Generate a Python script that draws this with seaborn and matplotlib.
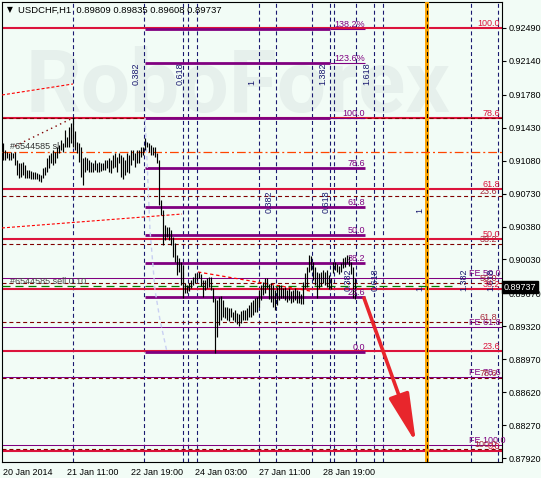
import matplotlib
matplotlib.use("Agg")
import matplotlib.pyplot as plt
import matplotlib.transforms as mtransforms
import seaborn as sns

# ---------------- data ----------------
title_text = "USDCHF,H1  0.89809 0.89835 0.89608 0.89737"
last_price = 0.89737

x_label_bars = [0, 32, 64, 96, 128, 160]
x_labels = ["20 Jan 2014", "21 Jan 11:00", "22 Jan 19:00",
            "24 Jan 03:00", "27 Jan 11:00", "28 Jan 19:00"]
price_ticks = [0.92490, 0.92140, 0.91780, 0.91430, 0.91080, 0.90730, 0.90380,
               0.90030, 0.89670, 0.89320, 0.88970, 0.88620, 0.88270, 0.87920]

# H1 bars, high / low
bar_high = [
    0.9127, 0.9119, 0.9117, 0.9116, 0.9117, 0.9116, 0.9117, 0.9109, 0.9106, 0.9106,
    0.9107, 0.9103, 0.9098, 0.9098, 0.9097, 0.9096, 0.9096, 0.9095, 0.9094, 0.9093,
    0.9100, 0.9101, 0.9111, 0.9114, 0.9116, 0.9119, 0.9117, 0.9122, 0.9125, 0.9130,
    0.9127, 0.9141, 0.9133, 0.9144, 0.9148, 0.9154, 0.9139, 0.9128, 0.9127, 0.9123,
    0.9111, 0.9112, 0.9111, 0.9109, 0.9107, 0.9106, 0.9109, 0.9106, 0.9107, 0.9106,
    0.9106, 0.9109, 0.9109, 0.9111, 0.9109, 0.9114, 0.9116, 0.9112, 0.9116, 0.9114,
    0.9112, 0.9109, 0.9116, 0.9114, 0.9119, 0.9119, 0.9116, 0.9119, 0.9119, 0.9122,
    0.9123, 0.9132, 0.9128, 0.9127, 0.9125, 0.9122, 0.9122, 0.9116, 0.9109, 0.9066,
    0.9056, 0.9040, 0.9038, 0.9038, 0.9034, 0.9027, 0.9021, 0.9008, 0.9005, 0.9000,
    0.8997, 0.8978, 0.8976, 0.8978, 0.8981, 0.8984, 0.8989, 0.8989, 0.8990, 0.8988,
    0.8981, 0.8981, 0.8983, 0.8984, 0.8984, 0.8973, 0.8962, 0.8960, 0.8963, 0.8964,
    0.8960, 0.8953, 0.8953, 0.8951, 0.8951, 0.8947, 0.8949, 0.8946, 0.8945, 0.8948,
    0.8949, 0.8949, 0.8951, 0.8955, 0.8958, 0.8960, 0.8962, 0.8963, 0.8971, 0.8976,
    0.8979, 0.8983, 0.8983, 0.8977, 0.8978, 0.8976, 0.8971, 0.8974, 0.8976, 0.8976,
    0.8973, 0.8974, 0.8971, 0.8973, 0.8970, 0.8971, 0.8973, 0.8971, 0.8969, 0.8966,
    0.8979, 0.8989, 0.8995, 0.9008, 0.9007, 0.9000, 0.8995, 0.8990, 0.8989, 0.8990,
    0.8992, 0.8990, 0.8992, 0.8987, 0.8983, 0.9000, 0.9000, 0.8998, 0.8996, 0.8999,
    0.9005, 0.9006, 0.9008, 0.9007, 0.9000, 0.8995, 0.89835,
]
bar_low = [
    0.9109, 0.9109, 0.9111, 0.9109, 0.9109, 0.9111, 0.9103, 0.9093, 0.9090, 0.9091,
    0.9093, 0.9090, 0.9090, 0.9090, 0.9089, 0.9088, 0.9088, 0.9088, 0.9086, 0.9085,
    0.9090, 0.9093, 0.9096, 0.9100, 0.9106, 0.9103, 0.9106, 0.9111, 0.9116, 0.9119,
    0.9117, 0.9122, 0.9123, 0.9123, 0.9127, 0.9123, 0.9119, 0.9116, 0.9107, 0.9091,
    0.9082, 0.9096, 0.9098, 0.9096, 0.9096, 0.9096, 0.9098, 0.9096, 0.9096, 0.9097,
    0.9098, 0.9098, 0.9100, 0.9096, 0.9095, 0.9100, 0.9101, 0.9096, 0.9106, 0.9091,
    0.9088, 0.9093, 0.9096, 0.9095, 0.9103, 0.9109, 0.9101, 0.9106, 0.9106, 0.9112,
    0.9114, 0.9119, 0.9122, 0.9117, 0.9114, 0.9114, 0.9112, 0.9106, 0.9061, 0.9050,
    0.9018, 0.9024, 0.9027, 0.9024, 0.9018, 0.9006, 0.9000, 0.8987, 0.8990, 0.8976,
    0.8962, 0.8967, 0.8967, 0.8969, 0.8973, 0.8976, 0.8978, 0.8981, 0.8983, 0.8975,
    0.8963, 0.8971, 0.8973, 0.8974, 0.8971, 0.8958, 0.8904, 0.8921, 0.8933, 0.8939,
    0.8942, 0.8941, 0.8939, 0.8938, 0.8942, 0.8939, 0.8937, 0.8934, 0.8932, 0.8936,
    0.8939, 0.8939, 0.8939, 0.8942, 0.8942, 0.8944, 0.8947, 0.8947, 0.8953, 0.8960,
    0.8965, 0.8967, 0.8973, 0.8961, 0.8958, 0.8953, 0.8949, 0.8955, 0.8960, 0.8962,
    0.8962, 0.8960, 0.8958, 0.8960, 0.8957, 0.8958, 0.8960, 0.8957, 0.8957, 0.8956,
    0.8956, 0.8973, 0.8974, 0.8990, 0.8992, 0.8981, 0.8976, 0.8962, 0.8973, 0.8975,
    0.8978, 0.8976, 0.8974, 0.8972, 0.8972, 0.8989, 0.8992, 0.8990, 0.8988, 0.8990,
    0.8994, 0.8995, 0.8999, 0.8996, 0.8988, 0.8962, 0.89608,
]

# fibonacci retracements: (price at 0, price at 100)
fib_ratios = [0.0, 23.6, 38.2, 50.0, 61.8, 78.6, 100.0]
fib_main = (0.8800, 0.9249)       # crimson, full width
fib_dash = (0.91534, 0.8802)      # maroon dashed, full width
fib_inner = (0.89047, 0.91534)    # purple, from 22 Jan
fib_inner_ratios = [0.0, 23.6, 38.2, 50.0, 61.8, 78.6, 100.0, 123.6, 138.2]
fib_inner_text = ["0.0", "23.6", "38.2", "50.0", "61.8", "78.6", "100.0", "123.6%", "138.2%"]

# fibo expansion lines
fe_prices = [0.89833, 0.89313, 0.88781, 0.88059]
fe_text = ["FE 50.0", "FE 61.8", "FE 78.6", "FE 100.0"]

# fibo time zones: (bar of 0, bar of 1, label price)
tz_ratios = [0.0, 0.382, 0.618, 1.0, 1.382, 1.618]
tz_sets = [(35, 128, 0.91884), (90, 212, 0.90524), (154.5, 212, 0.89695)]
extra_vline = 97
target_bar = 212

# orders and trend lines
sl_price = 0.91172
sell_price = 0.89745
trend_red_a = ([-0.5, 35], [0.91778, 0.91895])
trend_dot = ([6, 35], [0.91236, 0.91534])
trend_red_b = ([-0.5, 89.5], [0.90365, 0.90513])
trend_red_c = ([97.5, 153.5], [0.89897, 0.89695])
arc_x = [71, 72, 73.5, 76, 78.5, 82]
arc_y = [0.91534, 0.91087, 0.90343, 0.89706, 0.89387, 0.89047]
arrow_from = (180.5, 0.89621)
arrow_to = (206.5, 0.88080)

# ---------------- drawing ----------------
sns.set_style("white")
plt.rcParams["font.family"] = ["Liberation Sans", "DejaVu Sans"]

BG = "#F2FCF6"
CRIMSON = "#DC143C"
PURPLE = "#800080"
MAROON = "#800000"
NAVY = "#191970"
FS = 6.5

fig = plt.figure(figsize=(5.41, 4.78), dpi=100, facecolor=BG)
ax = fig.add_axes([2 / 541, 16 / 478, 500 / 541, 460 / 478], facecolor=BG)
ax.set_xlim(-0.5, 249.5)
ax.set_ylim(0.87878, 0.92766)

# watermark
ax.text(0.046, 0.761, "RoboForex", transform=ax.transAxes, fontsize=63,
        fontweight="bold", family="Roboto", color="#E6F0EC", zorder=0)

# vertical time zones
for b0, b1, ly in tz_sets:
    for r in tz_ratios:
        xb = b0 + r * (b1 - b0)
        if xb > 249.5:
            continue
        ax.axvline(xb, color=NAVY, lw=0.8, ls=(0, (3.6, 2.6)), zorder=2)
        if r > 0:
            ax.text(xb - 1.5, ly, f"{r:g}", rotation=90, ha="right", va="bottom",
                    color=NAVY, fontsize=FS, zorder=6)
ax.axvline(extra_vline, color=NAVY, lw=0.8, ls=(0, (3.6, 2.6)), zorder=2)
ax.axvline(target_bar, color="#FFA500", lw=2.8, zorder=3)
ax.axvline(target_bar, color="black", lw=0.8, ls=(0, (3.6, 2.6)), zorder=3)

# crimson retracement
lo, hi = fib_main
for r in fib_ratios:
    p = lo + r / 100 * (hi - lo)
    ax.axhline(p, color=CRIMSON, lw=1.5, zorder=2)
    ax.text(248.5, p, f"{r:.1f}", ha="right", va="bottom", color=CRIMSON,
            fontsize=FS, zorder=6)

# maroon dashed retracement
p0, p100 = fib_dash
for r in fib_ratios:
    p = p0 + r / 100 * (p100 - p0)
    ax.axhline(p, color=MAROON, lw=0.8, ls=(0, (3.6, 2.6)), zorder=2)
    if r > 0:
        ax.text(247, p, f"{r:.1f}", ha="right", va="bottom", color="#A8283A",
                fontsize=FS, zorder=6)

# expansion lines
for p, t in zip(fe_prices, fe_text):
    ax.axhline(p, color=PURPLE, lw=0.75, zorder=2)
    ax.text(233, p, t, ha="left", va="bottom", color=PURPLE, fontsize=FS, zorder=5)

# purple retracement
p0, p100 = fib_inner
for r, t in zip(fib_inner_ratios, fib_inner_text):
    p = p0 + r / 100 * (p100 - p0)
    if r >= 100:
        ax.hlines(p, 71, 163.5, color=PURPLE, lw=2.0, zorder=3)
        ax.hlines(p, 163.5, 181, color=PURPLE, lw=0.8, zorder=3)
    else:
        ax.hlines(p, 71, 181, color=PURPLE, lw=2.0, zorder=3)
    ax.text(181, p, t, ha="right", va="bottom", color=PURPLE, fontsize=FS, zorder=6)

# orders
ax.axhline(sl_price, color="#FF4500", lw=0.9, ls=(0, (7, 2.4, 1.6, 2.4)), zorder=3)
ax.text(3.5, sl_price + 0.0006, "#6544585 sl", color="#333333", fontsize=FS,
        va="center", zorder=6)
ax.hlines(sell_price, -0.5, 226, color="#008000", lw=0.9, ls=(0, (6.4, 4)), zorder=3)
ax.text(3.5, sell_price + 0.00055, "#6544585 sell 0.10", color="#4A4A4A",
        fontsize=FS, va="center", zorder=6)

# trend lines
sns.lineplot(x=trend_red_a[0], y=trend_red_a[1], ax=ax, color="#FF0000", lw=0.8,
             estimator=None, zorder=4).lines[-1].set_linestyle((0, (2.7, 1.8)))
sns.lineplot(x=trend_dot[0], y=trend_dot[1], ax=ax, color=MAROON, lw=1.0,
             estimator=None, zorder=4).lines[-1].set_linestyle((0, (1, 2.6)))
sns.lineplot(x=trend_red_b[0], y=trend_red_b[1], ax=ax, color="#FF0000", lw=0.8,
             estimator=None, zorder=4).lines[-1].set_linestyle((0, (2.7, 1.8)))
sns.lineplot(x=trend_red_c[0], y=trend_red_c[1], ax=ax, color="#FF0000", lw=0.9,
             estimator=None, zorder=4).lines[-1].set_linestyle((0, (2.7, 2.2)))
ax.plot(arc_x, arc_y, color="#C9D0F2", lw=1.0, ls=(0, (3, 2.5)), zorder=3)

# price bars
ax.vlines(range(len(bar_high)), bar_low, bar_high, color="black", lw=0.85, zorder=5)

# forecast arrow
ax.annotate("", xy=arrow_to, xytext=arrow_from, zorder=7,
            arrowprops=dict(arrowstyle="-|>,head_length=1.5,head_width=0.32",
                            mutation_scale=20, lw=2.6, color="#E8262C",
                            shrinkA=0, shrinkB=0))

# axes
for s in ax.spines.values():
    s.set_color("black")
    s.set_linewidth(0.8)
ax.yaxis.tick_right()
ax.set_yticks(price_ticks)
ax.set_yticklabels([f"{p:.5f}" for p in price_ticks])
ax.tick_params(axis="y", direction="out", length=3, width=0.8, pad=1.5,
               labelsize=FS, colors="black")
ax.set_xticks(x_label_bars)
ax.set_xticklabels(x_labels, ha="left")
ax.tick_params(axis="x", direction="out", length=3, width=0.8, pad=1.5,
               labelsize=FS, colors="black")
ax.set_xlabel("")
ax.set_ylabel("")

# current price box
trans = mtransforms.blended_transform_factory(ax.transAxes, ax.transData)
ax.text(1.004, last_price, f"{last_price:.5f}", transform=trans, ha="left",
        va="center", color="white", fontsize=FS, zorder=10, clip_on=False,
        bbox=dict(boxstyle="square,pad=0.2", fc="black", ec="black"))

# title
fig.text(7 / 541, 1 - 10 / 478, "\u25bc", family="DejaVu Sans", fontsize=5.5,
         va="center", color="black")
fig.text(18 / 541, 1 - 10 / 478, title_text, fontsize=6.8, va="center",
         color="black")

fig.savefig("out.png", dpi=100, facecolor=BG)
